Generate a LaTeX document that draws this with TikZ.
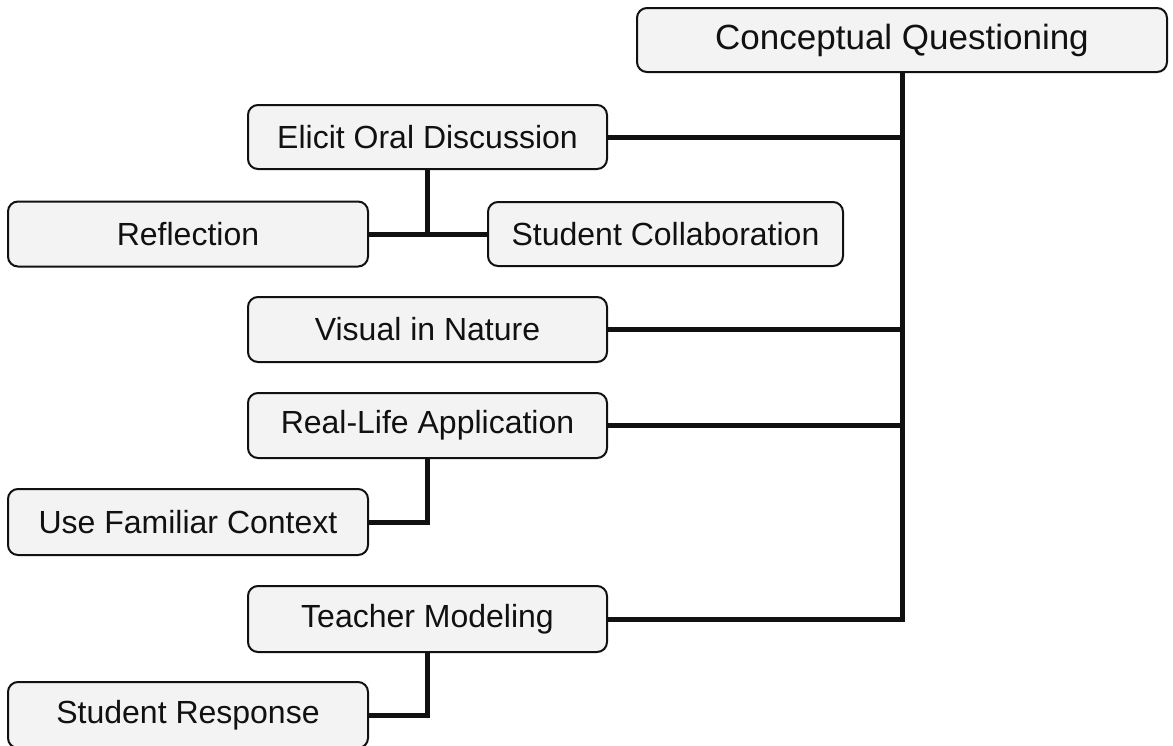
\documentclass[tikz,border=0pt]{standalone}
\usepackage{fontspec}
\setmainfont{Liberation Sans}
\definecolor{boxfill}{HTML}{F3F3F3}
\definecolor{ink}{HTML}{111111}
\tikzset{
  box/.style={draw=ink, line width=2pt, rounded corners=10pt, fill=boxfill,
    text=ink, inner sep=0pt, font=\fontsize{32}{36}\selectfont},
  link/.style={draw=ink, line width=5pt}
}
\begin{document}
\begin{tikzpicture}[x=1pt,y=-1pt]
\useasboundingbox (0,0) rectangle (1173,745);
\fill[white] (0,0) rectangle (1173,745);
\node[box, minimum width=530pt, minimum height=64pt, font=\fontsize{35}{40}\selectfont] (cq) at (902,40) {Conceptual Questioning};
\node[box, minimum width=359pt, minimum height=64pt] (eod) at (427.5,137) {Elicit Oral Discussion};
\node[box, minimum width=360pt, minimum height=65pt] (ref) at (188,234) {Reflection};
\node[box, minimum width=355pt, minimum height=64pt] (sc) at (665.5,234) {Student Collaboration};
\node[box, minimum width=359pt, minimum height=65pt] (vin) at (427.5,329.5) {Visual in Nature};
\node[box, minimum width=359pt, minimum height=65pt] (rla) at (427.5,425.5) {Real-Life Application};
\node[box, minimum width=360pt, minimum height=66pt] (ufc) at (188,522) {Use Familiar Context};
\node[box, minimum width=359pt, minimum height=66pt] (tm) at (427.5,619) {Teacher Modeling};
\node[box, minimum width=360pt, minimum height=66pt] (sr) at (188,715) {Student Response};
% trunk and branches
\draw[link] (cq.south) |- (tm.east);
\draw[link] (eod.east) -- (eod.east -| cq.south);
\draw[link] (vin.east) -- (vin.east -| cq.south);
\draw[link] (rla.east) -- (rla.east -| cq.south);
% sub-branches
\draw[link] (eod.south) -- (eod.south |- ref.east);
\draw[link] (ref.east) -- (sc.west);
\draw[link] (rla.south) |- (ufc.east);
\draw[link] (tm.south) |- (sr.east);
\end{tikzpicture}
\end{document}
